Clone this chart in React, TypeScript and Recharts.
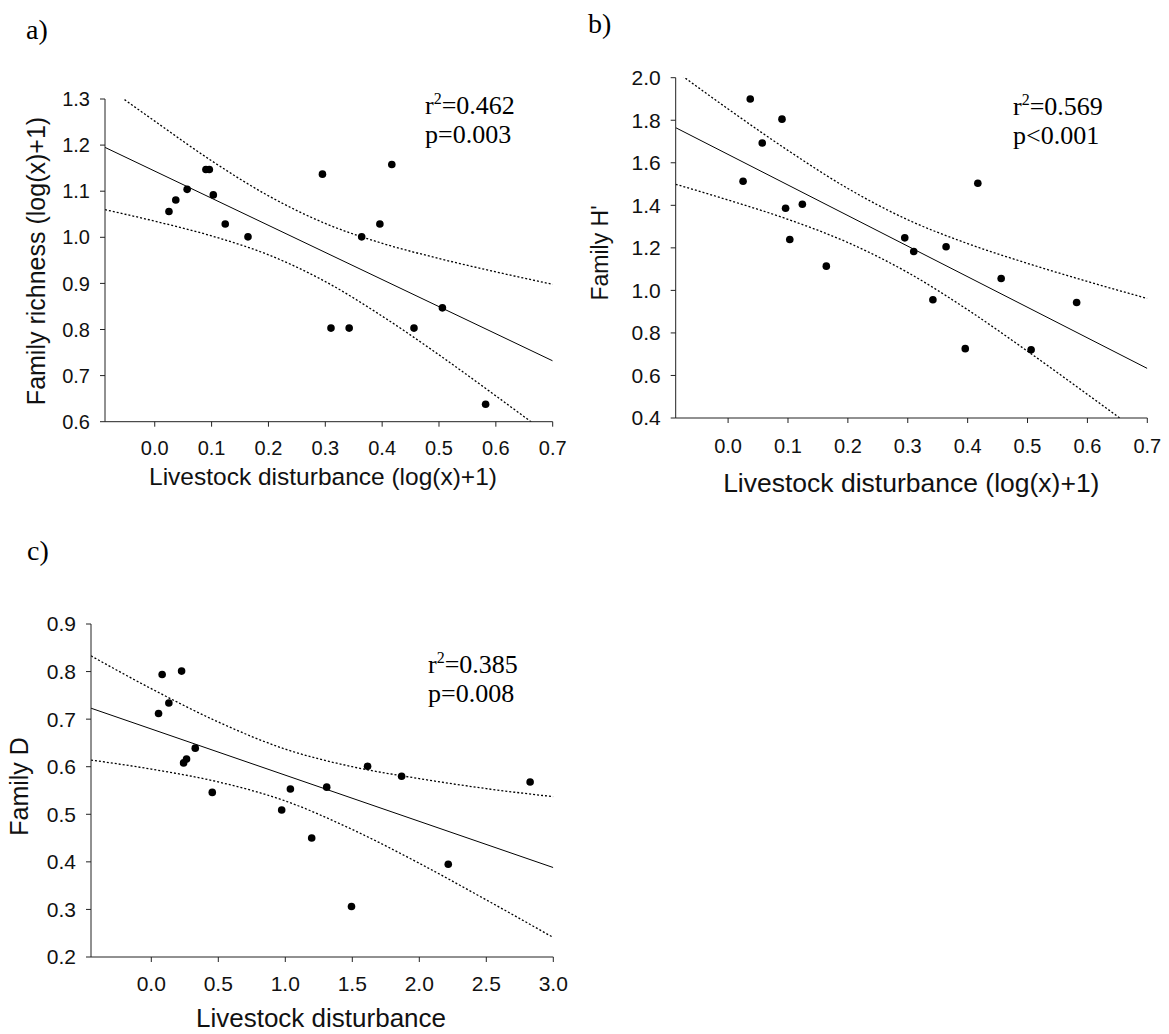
import React from 'react';
import { ComposedChart, XAxis, YAxis, Scatter, Line } from 'recharts';

// ---- data ----
// panels a & b share the transformed disturbance values
const logDisturbance = [0.025, 0.037, 0.057, 0.090, 0.096, 0.103, 0.124, 0.164, 0.295, 0.310, 0.342, 0.364, 0.396, 0.417, 0.456, 0.506, 0.582];
const familyRichness = [1.056, 1.081, 1.104, 1.147, 1.147, 1.092, 1.029, 1.001, 1.137, 0.803, 0.803, 1.001, 1.029, 1.158, 0.803, 0.847, 0.638];
const familyH = [1.513, 1.900, 1.693, 1.805, 1.386, 1.239, 1.405, 1.114, 1.247, 1.183, 0.956, 1.205, 0.726, 1.504, 1.056, 0.721, 0.943];

const disturbance = [0.054, 0.081, 0.131, 0.226, 0.241, 0.263, 0.328, 0.455, 0.973, 1.038, 1.197, 1.309, 1.494, 1.614, 1.868, 2.216, 2.827];
const familyD = [0.712, 0.794, 0.734, 0.801, 0.608, 0.616, 0.639, 0.546, 0.509, 0.553, 0.450, 0.557, 0.306, 0.601, 0.580, 0.395, 0.568];

// regression lines (end points) and 95% confidence bands
const fitXAB = [-0.0875, 0.7];
const fitRichness = [1.195, 0.732];
const fitH = [1.765, 0.633];
const bandXAB = [-0.0875, 0, 0.1, 0.2, 0.3, 0.4, 0.5, 0.6, 0.7];
const upperRichness = [1.329, 1.252, 1.166, 1.090, 1.030, 0.987, 0.954, 0.925, 0.898];
const lowerRichness = [1.060, 1.035, 1.003, 0.962, 0.904, 0.829, 0.745, 0.656, 0.565];
const upperH = [2.031, 1.853, 1.658, 1.479, 1.332, 1.220, 1.127, 1.042, 0.962];
const lowerH = [1.499, 1.425, 1.334, 1.225, 1.084, 0.909, 0.714, 0.511, 0.305];

const fitXC = [-0.45, 3.0];
const fitD = [0.723, 0.388];
const bandXC = [-0.45, 0, 0.5, 1.0, 1.5, 2.0, 2.5, 3.0];
const upperD = [0.833, 0.764, 0.694, 0.637, 0.600, 0.575, 0.554, 0.537];
const lowerD = [0.614, 0.595, 0.568, 0.528, 0.468, 0.397, 0.320, 0.241];

// tick labels
const xTicksAB = [0, 0.1, 0.2, 0.3, 0.4, 0.5, 0.6, 0.7];
const yTicksA = [0.6, 0.7, 0.8, 0.9, 1.0, 1.1, 1.2, 1.3];
const yTicksB = [0.4, 0.6, 0.8, 1.0, 1.2, 1.4, 1.6, 1.8, 2.0];
const xTicksC = [0, 0.5, 1.0, 1.5, 2.0, 2.5, 3.0];
const yTicksC = [0.2, 0.3, 0.4, 0.5, 0.6, 0.7, 0.8, 0.9];

const zip = (xs: number[], ys: number[]) => xs.map((x, i) => ({ x, y: ys[i] }));

const SANS = '"Liberation Sans", Arial, Helvetica, sans-serif';
const SERIF = '"Liberation Serif", "Times New Roman", Times, serif';
const AXIS = '#222';

const AxisTitle = (props: any) => {
  const { tx, ty, size, rot, text } = props;
  return (
    <g transform={rot ? `rotate(${rot} ${tx} ${ty})` : undefined}>
      <text x={tx} y={ty} textAnchor="middle" fontSize={size} fontFamily={SANS} fill="#111">
        {text}
      </text>
    </g>
  );
};

const Dot = (p: any) => <circle cx={p.cx} cy={p.cy} r={3.8} fill="#000" />;

type Panel = {
  left: number; top: number; width: number; height: number;
  margin: { top: number; right: number; bottom: number; left: number };
  yAxisWidth: number;
  xDomain: [number, number]; yDomain: [number, number];
  xTicks: number[]; yTicks: number[];
  points: { x: number; y: number }[];
  fit: { x: number; y: number }[];
  upper: { x: number; y: number }[];
  lower: { x: number; y: number }[];
  xTickMargin: number; xTickFont: number; yTickFont: number;
  xTitle: { text: string; x: number; y: number; size: number };
  yTitle: { text: string; x: number; y: number; size: number };
};

const panels: Panel[] = [
  {
    left: 0, top: 0, width: 580, height: 500,
    margin: { top: 99, right: 27.3, bottom: 8.3, left: 0 },
    yAxisWidth: 105,
    xDomain: [-0.0875, 0.7], yDomain: [0.6, 1.3],
    xTicks: xTicksAB, yTicks: yTicksA,
    points: zip(logDisturbance, familyRichness),
    fit: zip(fitXAB, fitRichness),
    upper: zip(bandXAB, upperRichness),
    lower: zip(bandXAB, lowerRichness),
    xTickMargin: 14, xTickFont: 20, yTickFont: 20,
    xTitle: { text: 'Livestock disturbance (log(x)+1)', x: 323, y: 485, size: 24.5 },
    yTitle: { text: 'Family richness (log(x)+1)', x: 45, y: 261, size: 25 },
  },
  {
    left: 580, top: 0, width: 589, height: 500,
    margin: { top: 77.7, right: 21.7, bottom: 12, left: 0 },
    yAxisWidth: 95.7,
    xDomain: [-0.0875, 0.7], yDomain: [0.4, 2.0],
    xTicks: xTicksAB, yTicks: yTicksB,
    points: zip(logDisturbance, familyH),
    fit: zip(fitXAB, fitH),
    upper: zip(bandXAB, upperH),
    lower: zip(bandXAB, lowerH),
    xTickMargin: 16, xTickFont: 20, yTickFont: 21,
    xTitle: { text: 'Livestock disturbance (log(x)+1)', x: 331.3, y: 491.7, size: 26.5 },
    yTitle: { text: "Family H'", x: 28, y: 253, size: 23 },
  },
  {
    left: 0, top: 520, width: 580, height: 514,
    margin: { top: 104, right: 26.7, bottom: 7, left: 0 },
    yAxisWidth: 91,
    xDomain: [-0.45, 3.0], yDomain: [0.2, 0.9],
    xTicks: xTicksC, yTicks: yTicksC,
    points: zip(disturbance, familyD),
    fit: zip(fitXC, fitD),
    upper: zip(bandXC, upperD),
    lower: zip(bandXC, lowerD),
    xTickMargin: 14, xTickFont: 21, yTickFont: 21,
    xTitle: { text: 'Livestock disturbance', x: 321, y: 507, size: 26 },
    yTitle: { text: 'Family D', x: 28, y: 266.5, size: 25 },
  },
];

const fmt = (v: number) => v.toFixed(1);

const PanelChart = ({ p }: { p: Panel }) => (
  <div style={{ position: 'absolute', left: p.left, top: p.top, width: p.width, height: p.height }}>
    <ComposedChart width={p.width} height={p.height} margin={p.margin}>
      <XAxis
        type="number"
        dataKey="x"
        domain={p.xDomain}
        ticks={p.xTicks}
        tickFormatter={fmt}
        allowDataOverflow
        height={70}
        stroke={AXIS}
        tickSize={5}
        tickMargin={p.xTickMargin}
        tick={{ fontSize: p.xTickFont, fill: '#111', fontFamily: SANS }}
        interval={0}
        label={<AxisTitle tx={p.xTitle.x} ty={p.xTitle.y} size={p.xTitle.size} text={p.xTitle.text} />}
      />
      <YAxis
        type="number"
        dataKey="y"
        domain={p.yDomain}
        ticks={p.yTicks}
        tickFormatter={fmt}
        allowDataOverflow
        width={p.yAxisWidth}
        stroke={AXIS}
        tickSize={5}
        tickMargin={10}
        tick={{ fontSize: p.yTickFont, fill: '#111', fontFamily: SANS }}
        interval={0}
        label={<AxisTitle tx={p.yTitle.x} ty={p.yTitle.y} size={p.yTitle.size} rot={-90} text={p.yTitle.text} />}
      />
      <Line data={p.upper} dataKey="y" type="monotone" stroke="#000" strokeWidth={1.3} strokeDasharray="2 2" dot={false} activeDot={false} isAnimationActive={false} />
      <Line data={p.lower} dataKey="y" type="monotone" stroke="#000" strokeWidth={1.3} strokeDasharray="2 2" dot={false} activeDot={false} isAnimationActive={false} />
      <Line data={p.fit} dataKey="y" type="linear" stroke="#000" strokeWidth={1} dot={false} activeDot={false} isAnimationActive={false} />
      <Scatter data={p.points} dataKey="y" fill="#000" shape={Dot} isAnimationActive={false} />
    </ComposedChart>
  </div>
);

const Stat = ({ x, y, r2, p }: { x: number; y: number; r2: string; p: string }) => (
  <g fontFamily={SERIF} fontSize={26} fill="#000">
    <text x={x} y={y}>
      <tspan>r</tspan>
      <tspan dy={-10} fontSize={16}>2</tspan>
      <tspan dy={10}>{'=' + r2}</tspan>
    </text>
    <text x={x} y={y + 29}>{p}</text>
  </g>
);

export default function App() {
  return (
    <div style={{ position: 'absolute', left: 0, top: 0, width: 1169, height: 1034, background: '#fff', overflow: 'hidden' }}>
      {panels.map((p, i) => (
        <PanelChart key={i} p={p} />
      ))}
      <svg width={1169} height={1034} style={{ position: 'absolute', left: 0, top: 0, pointerEvents: 'none' }}>
        <g fontFamily={SERIF} fontSize={28} fill="#000">
          <text x={26} y={39}>a)</text>
          <text x={588} y={33}>b)</text>
          <text x={27} y={560}>c)</text>
        </g>
        <Stat x={425} y={114} r2="0.462" p="p=0.003" />
        <Stat x={1013} y={115} r2="0.569" p="p<0.001" />
        <Stat x={428} y={673} r2="0.385" p="p=0.008" />
      </svg>
    </div>
  );
}
